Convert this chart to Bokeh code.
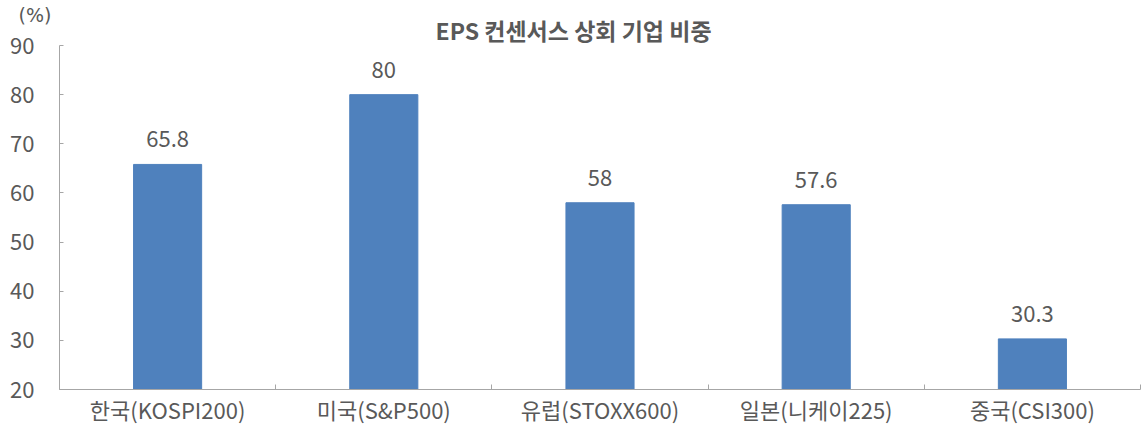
from bokeh.plotting import figure
from bokeh.models import Range1d, FixedTicker, Title, ColumnDataSource
from bokeh.core.properties import value
from bokeh.embed import file_html
from bokeh.resources import INLINE

categories = ["한국(KOSPI200)", "미국(S&P500)", "유럽(STOXX600)", "일본(니케이225)", "중국(CSI300)"]
values = [65.8, 80, 58, 57.6, 30.3]
value_labels = ["65.8", "80", "58", "57.6", "30.3"]
y_ticks = [20, 30, 40, 50, 60, 70, 80, 90]
title_text = "EPS 컨센서스 상회 기업 비중"
unit_text = "(%)"

FONT = "Noto Sans CJK KR"
TXT = "#595959"
AX = "#A6A6A6"

xs = [i + 0.5 for i in range(len(categories))]
src = ColumnDataSource(dict(x=xs, top=values, lab=value_labels))

p = figure(width=1142, height=427, output_backend="svg", toolbar_location=None,
           x_range=Range1d(0, len(categories)), y_range=Range1d(y_ticks[0], y_ticks[-1]),
           min_border_left=59, min_border_right=2, min_border_top=45, min_border_bottom=0)
p.outline_line_color = None
p.grid.grid_line_color = None
p.background_fill_color = "white"
p.border_fill_color = "white"

p.vbar(x="x", top="top", bottom=y_ticks[0], width=0.315, source=src,
       fill_color="#4F81BD", line_color="#4F81BD")

p.text(x="x", y="top", text="lab", source=src, text_align="center",
       text_baseline="bottom", y_offset=-17, text_font=value(FONT),
       text_font_size="22px", text_color=TXT)

# y axis
ya = p.yaxis[0]
ya.ticker = FixedTicker(ticks=y_ticks)
ya.major_tick_in = 4
ya.major_tick_out = 0
ya.minor_tick_line_color = None
ya.minor_tick_in = 0
ya.minor_tick_out = 0
ya.axis_line_color = AX
ya.major_tick_line_color = AX
ya.major_label_text_font = FONT
ya.major_label_text_font_size = "22px"
ya.major_label_text_color = TXT
ya.major_label_standoff = 25

# x axis
xa = p.xaxis[0]
xa.ticker = FixedTicker(ticks=xs, minor_ticks=list(range(len(categories) + 1)))
xa.major_label_overrides = {x: c for x, c in zip(xs, categories)}
xa.major_tick_line_color = None
xa.major_tick_in = 0
xa.major_tick_out = 0
xa.minor_tick_in = 5
xa.minor_tick_out = 0
xa.minor_tick_line_color = AX
xa.axis_line_color = AX
xa.major_label_text_font = FONT
xa.major_label_text_font_size = "22px"
xa.major_label_text_line_height = 1.0
xa.major_label_text_color = TXT
xa.major_label_standoff = 3

# outer row: unit label
p.title.text = unit_text
p.title.align = "left"
p.title.offset = -41
p.title.standoff = -27
p.title.text_font = "DejaVu Sans"
p.title.text_font_size = "19px"
p.title.text_font_style = "normal"
p.title.text_color = TXT

# inner row: chart title
main = Title(text=title_text, align="left", offset=376, standoff=-3,
             text_font=FONT, text_font_size="23px", text_font_style="bold",
             text_color=TXT)
p.add_layout(main, "above")

open("out.html", "w").write(file_html(p, INLINE))
